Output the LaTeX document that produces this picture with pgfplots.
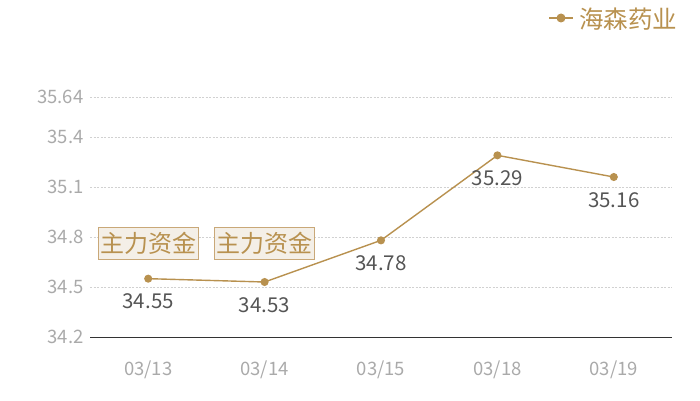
\documentclass[border=0pt]{standalone}
\usepackage{pgfplots}
\pgfplotsset{compat=1.18}
\usepackage{fontspec}
\setmainfont{Noto Sans CJK SC}
\definecolor{gold}{HTML}{B8914F}
\definecolor{boxfill}{HTML}{F4EFE7}
\definecolor{boxline}{HTML}{C9A878}
\definecolor{ticktxt}{HTML}{AAAAAA}
\definecolor{valtxt}{HTML}{555555}
\begin{document}
\begin{tikzpicture}[x=1pt,y=1pt]
\useasboundingbox (0,0) rectangle (700,400);
\begin{axis}[
    at={(90pt,63pt)}, anchor=south west,
    scale only axis, width=582pt, height=240pt,
    xmin=-0.5, xmax=4.5,
    ymin=34.2, ymax=35.64,
    xtick={0,1,2,3,4},
    xticklabels={03/13,03/14,03/15,03/18,03/19},
    ytick={34.2,34.5,34.8,35.1,35.4,35.64},
    yticklabels={34.2,34.5,34.8,35.1,35.4,35.64},
    /pgf/number format/assume math mode=true,
    axis line style={draw=none},
    major tick length=0pt,
    ymajorgrids=true,
    grid style={dash pattern=on 2pt off 1.5pt, line width=0.5pt, draw=black!18},
    tick label style={font=\fontsize{18.5}{20}\selectfont, text=ticktxt},
    xticklabel style={yshift=-20pt},
    yticklabel style={xshift=-3pt},
    clip=false,
]
\draw[line width=0.8pt, black!80] (axis cs:-0.5,34.2) -- (axis cs:4.5,34.2);
\addplot[gold, line width=1.4pt, mark=*, mark size=3.3pt]
    coordinates {(0,34.55)(1,34.53)(2,34.78)(3,35.29)(4,35.16)};
\foreach \x/\y in {0/34.55,1/34.53,2/34.78,3/35.29,4/35.16}{
    \edef\tmp{\noexpand\node[text=valtxt, font=\noexpand\fontsize{20.5}{22}\noexpand\selectfont] at (axis cs:\x,\y) [yshift=-23pt] {\y};}
    \tmp
}
\foreach \x in {0,1}{
    \edef\tmp{\noexpand\node[draw=boxline, fill=boxfill, line width=1pt, text=gold, inner xsep=2pt, inner ysep=4.5pt, font=\noexpand\fontsize{24}{26}\noexpand\selectfont] at (axis cs:\x,34.762) {主力资金};}
    \tmp
}
\end{axis}
\draw[gold, line width=1.2pt] (549,382) -- (573,382);
\fill[gold] (561,382) circle (4.5pt);
\node[anchor=west, text=gold, font=\fontsize{24.5}{26}\selectfont, inner sep=0pt] at (579,381) {海森药业};
\end{tikzpicture}
\end{document}
